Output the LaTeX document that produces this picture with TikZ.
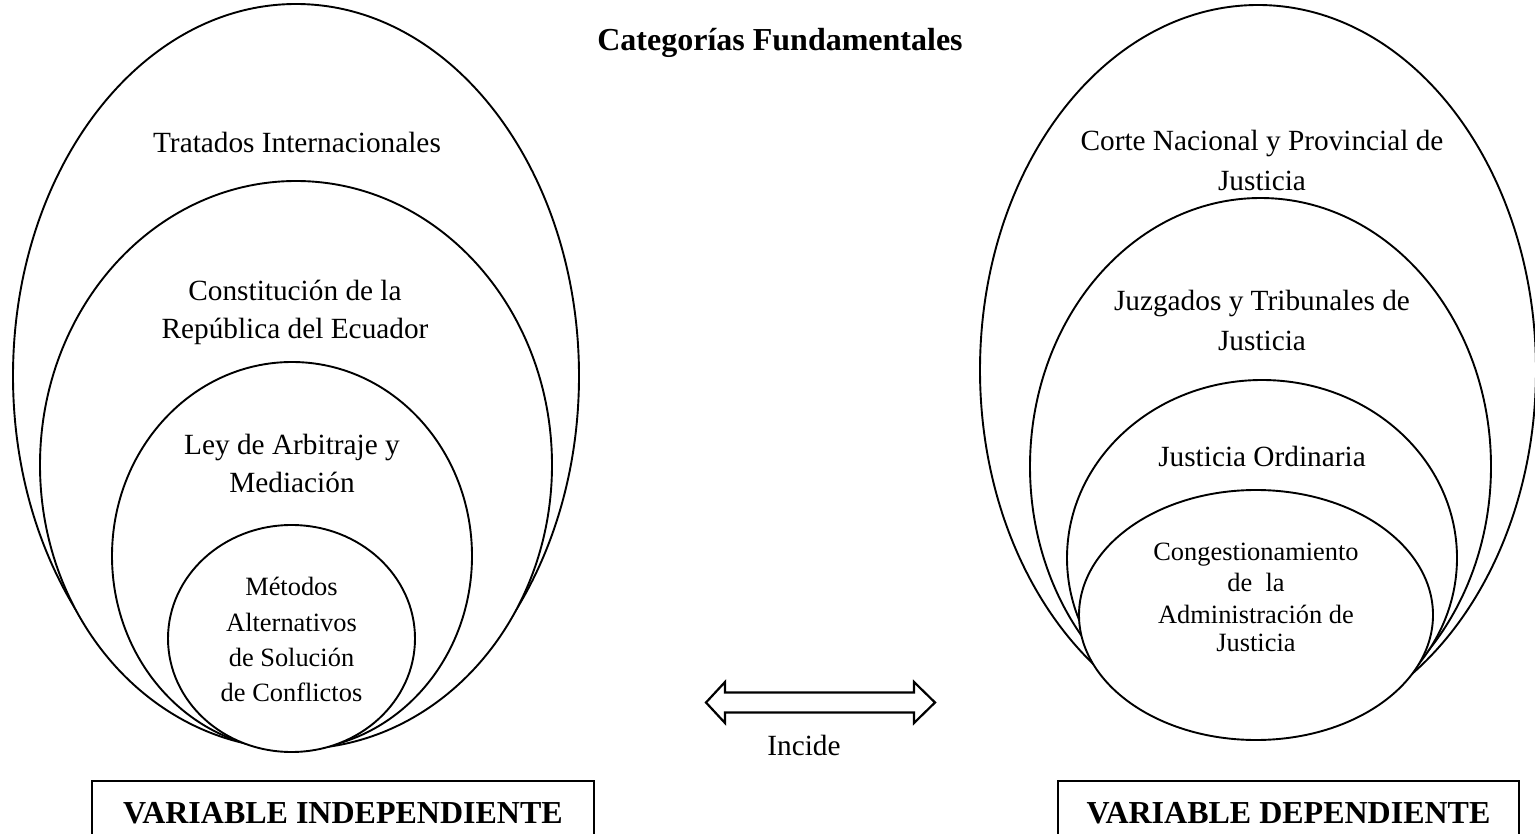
\documentclass[tikz,border=0pt]{standalone}
\usepackage{fontspec}
\setmainfont{Liberation Serif}
\usetikzlibrary{shapes.geometric}
\begin{document}
\begin{tikzpicture}[x=1pt,y=-1pt,
  ell/.style={draw=black, fill=white, line width=1.9pt, ellipse, inner sep=0pt, outer sep=0pt},
  body/.style={anchor=base, inner sep=0pt, font=\fontsize{29.3}{35}\selectfont},
  small/.style={anchor=base, inner sep=0pt, font=\fontsize{26.4}{31}\selectfont},
  varbox/.style={draw=black, line width=1.9pt, inner sep=0pt, minimum height=64pt, font=\bfseries\fontsize{32}{38}\selectfont},
  arrowshape/.style={draw=black, fill=white, line width=2.2pt, line join=miter}]
\useasboundingbox (0,0) rectangle (1535,834);

% left group of ellipses
\node[ell, minimum width=566pt, minimum height=744pt] (e1) at (296,376) {};
\node[ell, minimum width=512pt, minimum height=568pt] (e2) at (296,465) {};
\node[ell, minimum width=360pt, minimum height=388pt] (e3) at (292,556) {};
\node[ell, minimum width=247pt, minimum height=227pt] (e4) at (291.5,638.5) {};

% right group of ellipses
\node[ell, minimum width=556pt, minimum height=730pt] (r1) at (1258,370) {};
\node[ell, minimum width=461pt, minimum height=537pt] (r2) at (1260.5,466.5) {};
\node[ell, minimum width=390pt, minimum height=356pt] (r3) at (1262,558) {};
\node[ell, minimum width=354pt, minimum height=250pt] (r4) at (1256,615) {};

% title
\node[anchor=base, inner sep=0pt, font=\bfseries\fontsize{32}{38}\selectfont] (title) at (780,51) {Categorías Fundamentales};

% left texts
\node[body] (l1) at (297,153) {Tratados Internacionales};
\node[body] (l2a) at (295,301) {Constitución de la};
\node[body] (l2b) at (295,339) {República del Ecuador};
\node[body] (l3a) at (292,454) {Ley de Arbitraje y};
\node[body] (l3b) at (292,492) {Mediación};
\node[small] (l4a) at (291.5,595) {Métodos};
\node[small] (l4b) at (291.5,631) {Alternativos};
\node[small] (l4c) at (291.5,666) {de Solución};
\node[small] (l4d) at (291.5,701) {de Conflictos};

% right texts
\node[body] (r1a) at (1262,151) {Corte Nacional y Provincial de};
\node[body] (r1b) at (1262,191) {Justicia};
\node[body] (r2a) at (1262,311) {Juzgados y Tribunales de};
\node[body] (r2b) at (1262,351) {Justicia};
\node[body] (r3a) at (1262,466) {Justicia Ordinaria};
\node[small] (r4a) at (1256,560) {Congestionamiento};
\node[small] (r4b) at (1256,591) {de~~la};
\node[small] (r4c) at (1256,623) {Administración de};
\node[small] (r4d) at (1256,651) {Justicia};

% double arrow
\draw[arrowshape] (706,702.5) -- (725,682) -- (725,692.5) -- (914,692.5) -- (914,682)
  -- (935,702.5) -- (914,723) -- (914,712.5) -- (725,712.5) -- (725,723) -- cycle;
\node[body] (incide) at (804,755) {Incide};

% variable boxes
\node[varbox, minimum width=502pt] (vi) at (343,813) {VARIABLE INDEPENDIENTE};
\node[varbox, minimum width=461pt] (vd) at (1288.5,813) {VARIABLE DEPENDIENTE};
\end{tikzpicture}
\end{document}
